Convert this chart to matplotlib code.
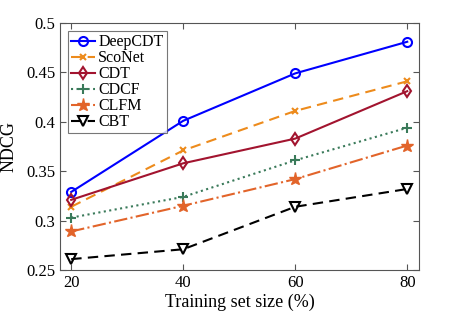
import numpy as np
import matplotlib
matplotlib.use('Agg')
import matplotlib.pyplot as plt

plt.rcParams['font.family'] = ['Liberation Serif', 'DejaVu Serif']
plt.rcParams['mathtext.fontset'] = 'stix'

sizes = [20, 40, 60, 80]
deepcdt = [0.329, 0.401, 0.449, 0.481]
sconet = [0.314, 0.371, 0.411, 0.441]
cdt = [0.321, 0.358, 0.383, 0.431]
cdcf = [0.303, 0.324, 0.361, 0.394]
clfm = [0.289, 0.315, 0.342, 0.376]
cbt = [0.261, 0.271, 0.314, 0.332]

fig = plt.figure(figsize=(4.63, 3.11), dpi=100)
ax = fig.add_axes([60 / 463, 1 - 270 / 311, 359 / 463, 247 / 311])

ax.plot(sizes, deepcdt, '-o', color='#0000ff', lw=1.5, ms=6.5, mfc='none', mew=1.5, label='DeepCDT')
ax.plot(sizes, sconet, '--x', color='#ed8b1c', lw=1.5, ms=5, mew=1.5, label='ScoNet', dashes=(5, 3))
ax.plot(sizes, cdt, '-d', color='#a2142f', lw=1.5, ms=6.5, mfc='none', mew=1.5, label='CDT')
ax.plot(sizes, cdcf, ':+', color='#3a7a5a', lw=1.5, ms=7, mew=1.5, label='CDCF')
ax.plot(sizes, clfm, '-.*', color='#e2642a', lw=1.5, ms=9.5, mew=1.0, label='CLFM')
ax.plot(sizes, cbt, '--v', color='black', lw=1.5, ms=6.5, mfc='none', mew=1.5, label='CBT', dashes=(5, 3))

ax.set_xlim(18, 82.1)
ax.set_ylim(0.25, 0.5)
ax.set_xticks(sizes)
ax.set_yticks([0.25, 0.3, 0.35, 0.4, 0.45, 0.5])
ax.set_yticklabels(['0.25', '0.3', '0.35', '0.4', '0.45', '0.5'])
ax.tick_params(direction='in', top=True, right=True, labelsize=12, length=4, color='#555555')
for s in ax.spines.values():
    s.set_color('#555555')
    s.set_linewidth(0.8)

ax.set_xlabel('Training set size (%)', fontsize=13, labelpad=2)
ax.set_ylabel('NDCG', fontsize=13, labelpad=6)

leg = ax.legend(loc='upper left', fontsize=11.5, handlelength=1.5, handletextpad=0.2,
                labelspacing=0.0, borderpad=0.2, fancybox=False, borderaxespad=0.5)
leg.get_frame().set_edgecolor('#555555')
leg.get_frame().set_linewidth(0.8)

fig.savefig('out.png', dpi=100)
